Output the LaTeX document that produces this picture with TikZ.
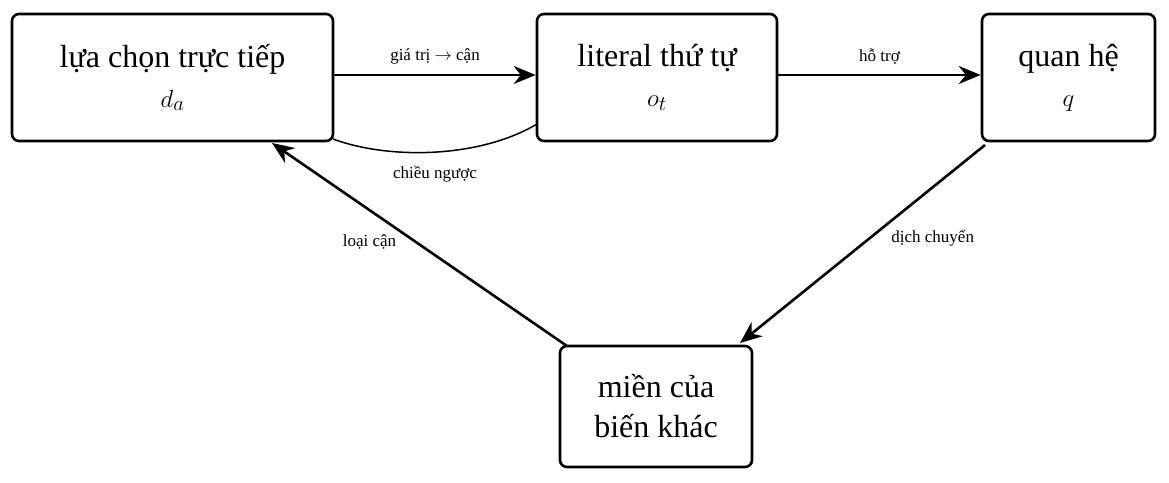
\documentclass[tikz,border=0pt]{standalone}
\usepackage{fontspec}
\setmainfont{Liberation Serif}
\usetikzlibrary{arrows.meta}
\begin{document}
\begin{tikzpicture}[x=1pt,y=-1pt,
  box/.style={draw,line width=2.6pt,rounded corners=7pt,align=center,font=\fontsize{32}{40}\selectfont,inner sep=0pt},
  arr/.style={line width=2.6pt,-{Stealth[length=22pt,width=18pt]}},
  lab/.style={font=\fontsize{17}{20}\selectfont}]
\useasboundingbox (0,0) rectangle (1169,482);
\node[box,minimum width=321pt,minimum height=127pt] (a) at (172.5,77.5) {lựa chọn trực tiếp\\$\mathbf{}d_a$};
\node[box,minimum width=240pt,minimum height=127pt] (b) at (657,77.5) {literal thứ tự\\$o_t$};
\node[box,minimum width=173pt,minimum height=127pt] (c) at (1068.5,77.5) {quan hệ\\$q$};
\node[box,minimum width=192pt,minimum height=121pt] (d) at (656,406.5) {miền của\\biến khác};
\draw[arr] (a.east |- 0,75) -- node[lab,above=6pt]{giá trị $\rightarrow$ cận} (b.west |- 0,75);
\draw[arr] (b.east |- 0,75) -- node[lab,above=6pt]{hỗ trợ} (c.west |- 0,75);
\coordinate (c1) at (985,145);
\coordinate (d1) at (740,343);
\draw[arr] (c1) -- node[lab,pos=0.45,right=12pt,yshift=-4pt]{dịch chuyển} (d1);
\coordinate (d2) at (567,346);
\coordinate (a2) at (272,143);
\draw[arr] (d2) -- node[lab,pos=0.55,left=4pt,yshift=-8pt]{loại cận} (a2);
\coordinate (b3) at (537,124);
\coordinate (a3) at (333,139);
\draw[line width=1.5pt] (b3) .. controls (480,158) and (390,160) .. node[lab,below=10pt]{chiều ngược} (a3);
\end{tikzpicture}
\end{document}
